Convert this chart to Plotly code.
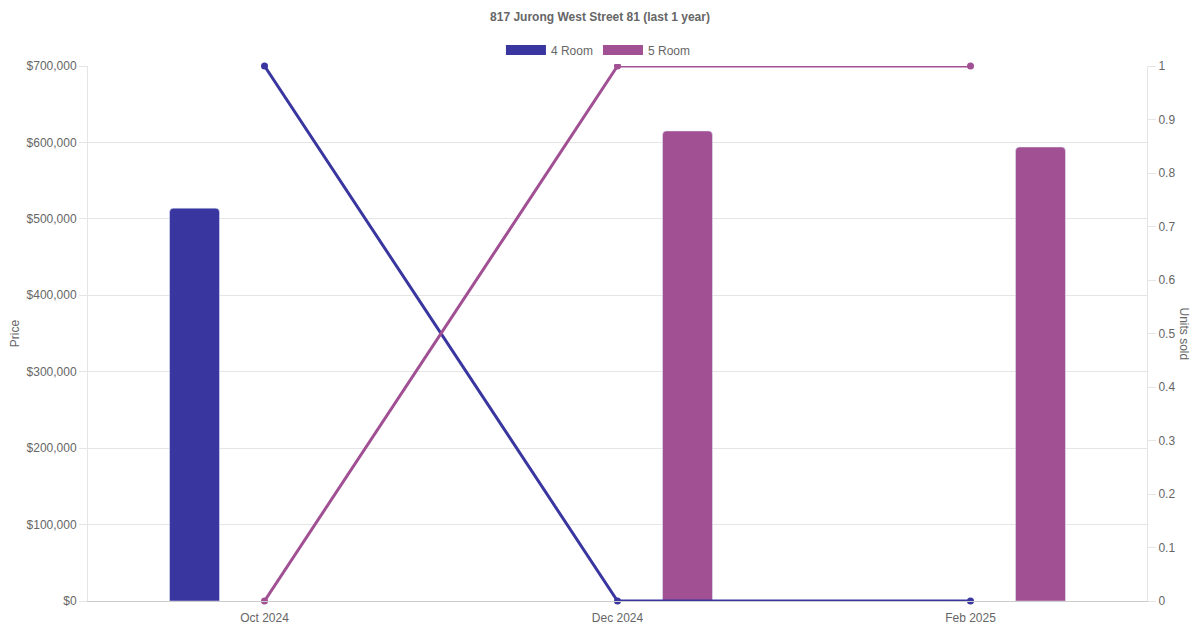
import plotly.graph_objects as go

# ---- data ----
months = ["Oct 2024", "Dec 2024", "Feb 2025"]
price_4room = [514000, None, None]
price_5room = [None, 615000, 594000]
units_4room = [1, 0, 0]
units_5room = [0, 1, 1]

C_4ROOM = "#3a36a0"
C_5ROOM = "#a05093"
TEXT = "#666666"
GRID = "#e5e5e5"
FONT = "Liberation Sans, Arial, sans-serif"

fig = go.Figure()

# bars (price, left axis)
fig.add_trace(go.Bar(x=months, y=price_4room, name="4 Room", marker_color=C_4ROOM,
                     marker_cornerradius=4, showlegend=False, yaxis="y"))
fig.add_trace(go.Bar(x=months, y=price_5room, name="5 Room", marker_color=C_5ROOM,
                     marker_cornerradius=4, showlegend=False, yaxis="y"))

# lines (units sold, right axis)
fig.add_trace(go.Scatter(x=months, y=units_4room, name="4 Room", mode="lines+markers",
                         line=dict(color=C_4ROOM, width=3), marker=dict(size=7),
                         cliponaxis=False, showlegend=False, yaxis="y2"))
fig.add_trace(go.Scatter(x=months, y=units_5room, name="5 Room", mode="lines+markers",
                         line=dict(color=C_5ROOM, width=3), marker=dict(size=7),
                         cliponaxis=False, showlegend=False, yaxis="y2"))

# legend swatches (wide boxes like the original)
for name, c in [("4 Room", C_4ROOM), ("5 Room", C_5ROOM)]:
    fig.add_trace(go.Scatter(x=[None], y=[None], name=name, mode="lines",
                             line=dict(color=c, width=12), yaxis="y2"))

# page body has an 8px margin, so the figure is 8px smaller than the window
fig.update_layout(
    width=1192, height=622,
    margin=dict(l=80, r=53, t=58, b=29, autoexpand=False),
    paper_bgcolor="white", plot_bgcolor="white",
    font=dict(family=FONT, size=12, color=TEXT),
    title=dict(text="<b>817 Jurong West Street 81 (last 1 year)</b>",
               x=0.4835, xref="paper", xanchor="center", y=0.9855, yanchor="middle",
               font=dict(size=12, color=TEXT)),
    barmode="group", bargap=0.207, bargroupgap=0.643,
    legend=dict(orientation="h", x=0.482, xanchor="center", y=1.030, yanchor="middle",
                itemwidth=40, font=dict(size=12, color=TEXT), traceorder="normal"),
    xaxis=dict(range=[-0.5, 2.5], showgrid=False, showline=True, linecolor="#cccccc",
               linewidth=1, ticks="outside", ticklen=6, tickcolor="rgba(0,0,0,0)",
               automargin=False, tickfont=dict(size=12, color=TEXT)),
    yaxis=dict(range=[0, 700000], dtick=100000, tickprefix="$", tickformat=",",
               showgrid=True, gridcolor=GRID, showline=True, linecolor=GRID,
               ticks="outside", ticklen=8, tickcolor=GRID, zeroline=False,
               automargin=False, tickfont=dict(size=12, color=TEXT),
               title=dict(text="Price", standoff=8, font=dict(size=12, color=TEXT))),
    yaxis2=dict(range=[0, 1], dtick=0.1, overlaying="y", side="right",
                showgrid=False, showline=True, linecolor=GRID, zeroline=False,
                ticks="outside", ticklen=8, tickcolor=GRID, automargin=False,
                tickfont=dict(size=12, color=TEXT)),
    annotations=[dict(text="Units sold", xref="paper", yref="paper", x=1, y=0.5,
                      xshift=46, showarrow=False, textangle=90,
                      font=dict(size=12, color=TEXT))],
)

fig.write_html("out.html")
